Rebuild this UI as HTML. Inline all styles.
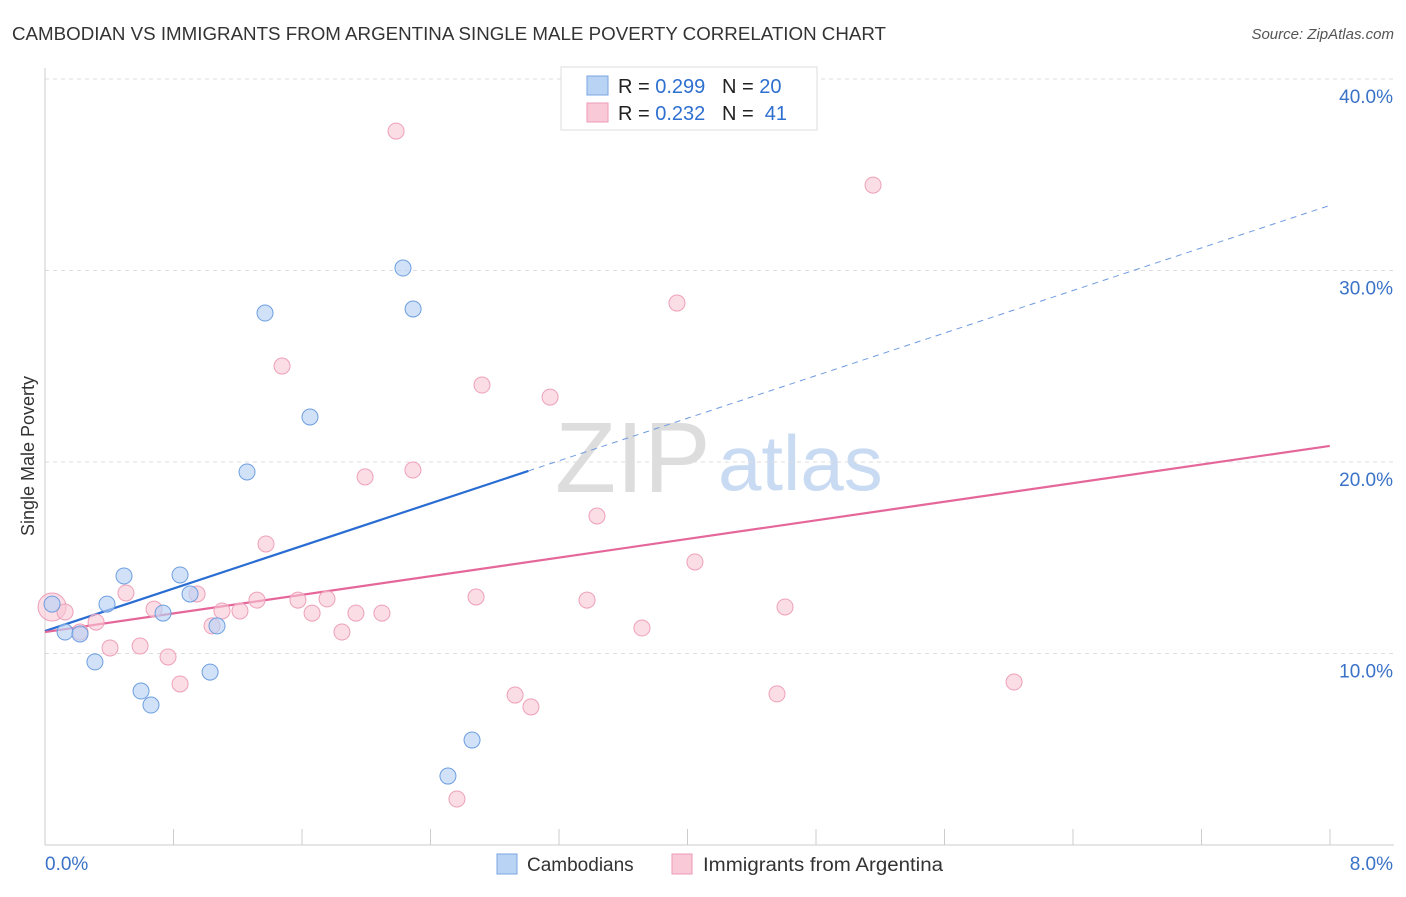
<!DOCTYPE html>
<html><head><meta charset="utf-8"><style>
body{margin:0;background:#fff;font-family:"Liberation Sans",sans-serif;}
svg text{font-family:"Liberation Sans",sans-serif;white-space:pre;}
</style></head><body>
<svg id="chart" width="1406" height="892" xmlns="http://www.w3.org/2000/svg">
<text x="12" y="40" font-size="18" fill="#333" textLength="874" lengthAdjust="spacingAndGlyphs">CAMBODIAN VS IMMIGRANTS FROM ARGENTINA SINGLE MALE POVERTY CORRELATION CHART</text>
<text x="1394" y="39" font-size="15" fill="#555" font-style="italic" text-anchor="end">Source: ZipAtlas.com</text>
<text x="34" y="456" font-size="18" fill="#333" text-anchor="middle" transform="rotate(-90 34 456)">Single Male Poverty</text>
<text x="555" y="492" font-size="100" fill="#ddd" font-family="Liberation Serif">ZIP</text>
<text x="718" y="490" font-size="78" fill="#c9dbf2">atlas</text>
<g id="grid"></g><g id="lines"></g><g id="pts"></g>
<g>
<rect x="561" y="67" width="256" height="63" fill="#fff" stroke="#ddd"/>
<rect x="587" y="76" width="21" height="19" fill="#b9d3f5" stroke="#7aa6e0"/>
<rect x="587" y="103" width="21" height="19" fill="#f9c9d7" stroke="#ee9ab4"/>
<text x="618" y="93" font-size="20" fill="#222">R = <tspan fill="#2e6fd0">0.299</tspan>   N = <tspan fill="#2e6fd0">20</tspan></text>
<text x="618" y="120" font-size="20" fill="#222">R = <tspan fill="#2e6fd0">0.232</tspan>   N =  <tspan fill="#2e6fd0">41</tspan></text>
</g>
<g>
<rect x="497" y="854" width="20" height="20" fill="#b9d3f5" stroke="#7aa6e0"/>
<text x="527" y="871" font-size="19" fill="#333">Cambodians</text>
<rect x="672" y="854" width="20" height="20" fill="#f9c9d7" stroke="#ee9ab4"/>
<text x="703" y="871" font-size="19" fill="#333" textLength="240" lengthAdjust="spacingAndGlyphs">Immigrants from Argentina</text>
</g>
</svg>
<script>
const blueX=[0.044,0.125,0.218,0.311,0.386,0.492,0.598,0.66,0.735,0.841,0.903,1.028,1.071,1.258,1.37,1.65,2.229,2.292,2.509,2.659];
const blueY=[12.58,11.12,11.02,9.56,12.58,14.05,8.04,7.31,12.11,14.1,13.11,9.03,11.44,19.48,27.78,22.35,30.13,27.99,3.60,5.48];
const pinkX=[0.044,0.125,0.218,0.318,0.405,0.504,0.592,0.679,0.766,0.841,0.947,1.04,1.102,1.214,1.32,1.376,1.476,1.575,1.663,1.756,1.849,1.936,1.993,2.098,2.186,2.291,2.684,2.721,2.927,3.026,3.145,3.375,3.437,3.717,3.935,4.047,4.558,4.608,5.156,6.034,2.565];
const pinkY=[12.43,12.17,11.12,11.64,10.29,13.16,10.39,12.32,9.82,8.41,13.11,11.44,12.22,12.22,12.79,15.72,25.01,12.79,12.11,12.85,11.12,12.11,19.22,12.11,37.28,19.58,12.95,24.02,7.83,7.21,23.39,12.79,17.18,11.33,28.3,14.78,7.89,12.43,34.46,8.51,2.4];
const yTicks=[10,20,30,40];
const yTickLabels=["10.0%","20.0%","30.0%","40.0%"];
const xTickLabels=["0.0%","8.0%"];
const blueTrend=[11.17,33.4], blueSolidEnd=3.01;
const pinkTrend=[11.12,20.84];
const NS="http://www.w3.org/2000/svg";
const sx=v=>45+v*160.6, sy=v=>845-v*19.15;
function mk(t,a,p){const e=document.createElementNS(NS,t);for(const k in a)e.setAttribute(k,a[k]);document.getElementById(p).appendChild(e);return e;}
yTicks.forEach((t,i)=>{
 const l=mk('line',{x1:45,x2:1394,y1:sy(t),y2:sy(t),stroke:'#ddd','stroke-dasharray':'4,4'},'grid');
 
 
 const tx=mk('text',{x:1393,y:sy(t)+24,'font-size':19,fill:'#3a72c8','text-anchor':'end'},'grid');
 tx.textContent=yTickLabels[i];
 
 
});
mk('line',{x1:45,x2:45,y1:68,y2:845,stroke:'#ccc'},'grid');
mk('line',{x1:45,x2:1394,y1:845,y2:845,stroke:'#ccc'},'grid');
for(let i=1;i<=10;i++){const x=45+i*128.5;const t=mk('line',{x1:x,x2:x,y1:829,y2:845,stroke:'#ccc'},'grid');}
let t0=mk('text',{x:45,y:870,'font-size':19,fill:'#3a72c8'},'grid');t0.textContent=xTickLabels[0];


let t1=mk('text',{x:1393,y:870,'font-size':19,fill:'#3a72c8','text-anchor':'end'},'grid');t1.textContent=xTickLabels[1];


const bAt=x=>blueTrend[0]+(blueTrend[1]-blueTrend[0])*x/8;
let bl=mk('line',{x1:sx(0),y1:sy(bAt(0)),x2:sx(blueSolidEnd),y2:sy(bAt(blueSolidEnd)),stroke:'#2a6dd2','stroke-width':2.2},'lines');


let bd=mk('line',{x1:sx(blueSolidEnd),y1:sy(bAt(blueSolidEnd)),x2:sx(8),y2:sy(bAt(8)),stroke:'#6f9be0','stroke-width':1,'stroke-dasharray':'6,5'},'lines');


let pl=mk('line',{x1:sx(0),y1:sy(pinkTrend[0]),x2:sx(8),y2:sy(pinkTrend[1]),stroke:'#e5679a','stroke-width':2.2},'lines');


pinkX.forEach((x,i)=>{const c=mk('circle',{cx:sx(x),cy:sy(pinkY[i]),r:i==0?14:8,fill:'#f8c6d5','fill-opacity':0.6,stroke:'#eea0b9','stroke-width':1},'pts');
 
 });
blueX.forEach((x,i)=>{const c=mk('circle',{cx:sx(x),cy:sy(blueY[i]),r:8,fill:'#b9d3f5','fill-opacity':0.65,stroke:'#6d9ee0','stroke-width':1},'pts');
 
 });
</script>
</body></html>
